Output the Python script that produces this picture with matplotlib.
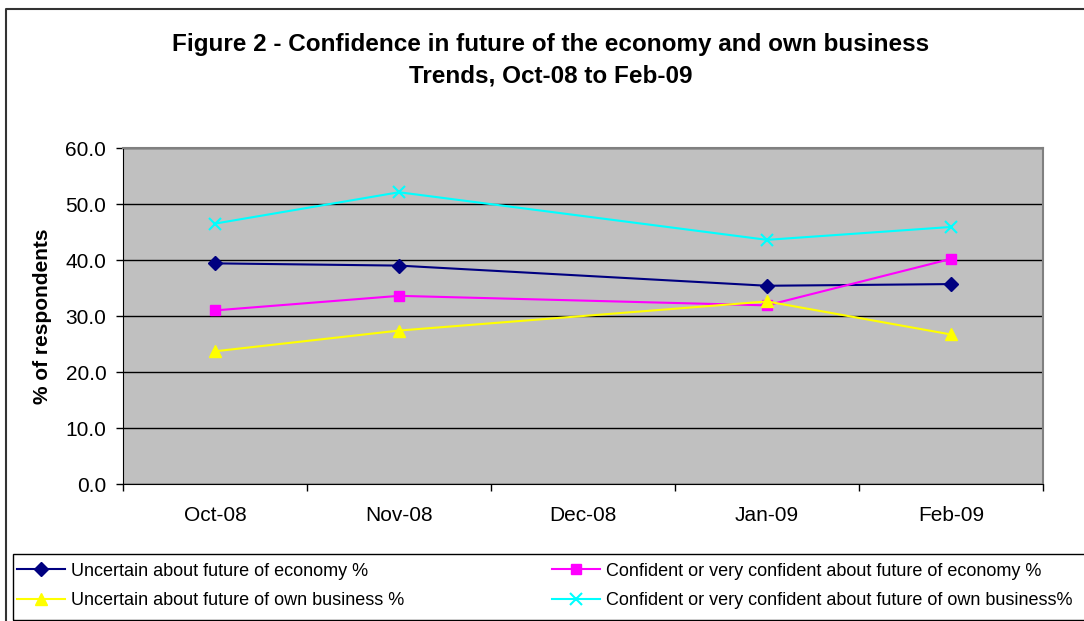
import matplotlib.pyplot as plt
from matplotlib.lines import Line2D
from matplotlib.patches import Rectangle

plt.rcParams['font.family'] = ['Liberation Sans', 'DejaVu Sans']

months = ['Oct-08', 'Nov-08', 'Dec-08', 'Jan-09', 'Feb-09']
# no survey in Dec-08, so each series only has 4 points
survey_idx = [0, 1, 3, 4]

uncertain_economy = [39.4, 39.0, 35.4, 35.7]
confident_economy = [31.0, 33.6, 31.9, 40.2]
uncertain_business = [23.7, 27.4, 32.6, 26.7]
confident_business = [46.5, 52.1, 43.6, 45.9]

labels = ['Uncertain about future of economy %',
          'Confident or very confident about future of economy %',
          'Uncertain about future of own business %',
          'Confident or very confident about future of own business%']

W, H = 1084, 621
fig = plt.figure(figsize=(W / 100, H / 100), dpi=100)
ax = fig.add_axes([123 / W, 137 / H, 920 / W, 336 / H])
ax.set_facecolor('#C0C0C0')

l1, = ax.plot(survey_idx, uncertain_economy, color='#000080', lw=1.5,
              marker='D', ms=7, zorder=3)
l2, = ax.plot(survey_idx, confident_economy, color='#FF00FF', lw=1.5,
              marker='s', ms=7, zorder=3)
l3, = ax.plot(survey_idx, uncertain_business, color='#FFFF00', lw=1.5,
              marker='^', ms=8, zorder=3)
l4, = ax.plot(survey_idx, confident_business, color='#00FFFF', lw=1.5,
              marker='x', ms=8, mew=1.5, zorder=3)

ax.set_ylim(0, 60)
ax.set_yticks(range(0, 61, 10))
ax.set_yticklabels(['%.1f' % v for v in range(0, 61, 10)])
ax.set_xlim(-0.5, 4.5)
ax.set_xticks(range(len(months)))
ax.set_xticklabels(months)
ax.set_xticks([i - 0.5 for i in range(len(months) + 1)], minor=True)
ax.tick_params(axis='x', which='major', length=0, pad=16, labelsize=15)
ax.tick_params(axis='x', which='minor', length=5, width=1, direction='out')
ax.tick_params(axis='y', length=5, width=1, pad=7, labelsize=15)
ax.grid(axis='y', color='black', lw=1)
ax.set_axisbelow(True)

for s in ['top', 'right']:
    ax.spines[s].set_color('#808080')
    ax.spines[s].set_linewidth(1.5)
for s in ['left', 'bottom']:
    ax.spines[s].set_color('black')

ax.set_ylabel('% of respondents', fontsize=15, fontweight='bold', labelpad=10)

fig.text(551 / W, 1 - 45 / H,
         'Figure 2 - Confidence in future of the economy and own business',
         ha='center', va='center', fontsize=17.5, fontweight='bold')
fig.text(551 / W, 1 - 76 / H, 'Trends, Oct-08 to Feb-09',
         ha='center', va='center', fontsize=17.5, fontweight='bold')

# chart area frame (cut off on the right and bottom)
fig.add_artist(Line2D([6 / W, 6 / W, 1.0], [0.0, 1 - 9 / H, 1 - 9 / H],
                      transform=fig.transFigure, color='#333333', lw=1.5))

# legend box
fig.add_artist(Rectangle((13 / W, 1 / H), 1.0, 66 / H, transform=fig.transFigure,
                         fill=False, edgecolor='black', lw=1))
fig.legend([l1, l3, l2, l4], [labels[0], labels[2], labels[1], labels[3]],
           ncol=2, loc='center left', bbox_to_anchor=(17 / W, 1 - 586 / H),
           frameon=False, fontsize=13, handlelength=2.67, handletextpad=0.3,
           columnspacing=8.2, labelspacing=0.71, borderpad=0, borderaxespad=0)

fig.savefig('out.png', dpi=100)
